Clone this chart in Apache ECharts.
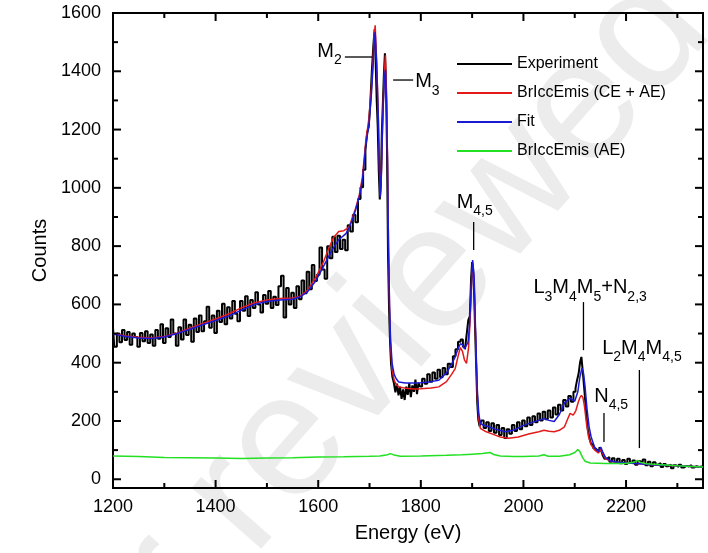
<!DOCTYPE html>
<html style="height: 100%">
<head>
    <meta charset="utf-8">
    <title>BrIccEmis spectrum</title>
    <script src="https://cdn.jsdelivr.net/npm/echarts/dist/echarts.min.js"></script>
</head>
<body style="height: 100%; margin: 0; background: #fff">
    <div id="main" style="width: 708px; height: 553px"></div>
    <script type="text/javascript">
        var chart = echarts.init(document.getElementById('main'));

        // tick values
        var xMajorTicks = [1200, 1400, 1600, 1800, 2000, 2200];
        var xMinorTicks = [1300, 1500, 1700, 1900, 2100, 2300];
        var yMajorTicks = [0, 200, 400, 600, 800, 1000, 1200, 1400, 1600];
        var yMinorTicks = [100, 300, 500, 700, 900, 1100, 1300, 1500];

        var seriesNames = ['Experiment', 'BrIccEmis (CE + AE)', 'Fit', 'BrIccEmis (AE)'];

        // measured spectrum [energy eV, counts]
        var experiment = [
            [1200,520],[1205,455],[1210,500],[1215,470],[1220,512],[1225,478],[1230,505],[1235,462],[1240,500],[1245,488],
            [1250,455],[1255,502],[1260,474],[1265,508],[1270,468],[1275,497],[1280,458],[1285,512],[1290,482],[1295,532],
            [1300,468],[1305,518],[1310,488],[1315,548],[1320,500],[1325,458],[1330,522],[1335,480],[1340,548],[1345,495],
            [1350,530],[1355,472],[1360,552],[1365,505],[1370,562],[1375,508],[1380,542],[1385,592],[1390,520],[1395,562],
            [1400,502],[1405,578],[1410,540],[1415,602],[1420,532],[1425,590],[1430,552],[1435,612],[1440,568],[1445,542],
            [1450,612],[1455,578],[1460,628],[1465,560],[1470,615],[1475,588],[1480,642],[1485,600],[1490,572],[1495,632],
            [1500,602],[1505,646],[1510,588],[1515,626],[1520,598],[1525,662],[1530,698],[1535,555],[1540,656],[1545,600],
            [1550,640],[1555,588],[1560,662],[1565,618],[1570,682],[1575,638],[1580,712],[1585,652],[1590,735],[1595,680],
            [1600,702],[1605,795],[1610,720],[1615,688],[1620,800],[1625,758],[1630,832],[1635,780],[1640,836],[1645,790],
            [1650,822],[1655,786],[1660,872],[1665,850],[1670,908],[1675,882],[1680,962],[1685,1002],[1690,1062],[1694,1130],
            [1697,1190],[1700,1210],[1703,1290],[1706,1400],[1709,1490],[1711,1545],[1713,1430],[1715,1300],[1717,1210],[1719,1060],
            [1721,960],[1723,1010],[1725,1190],[1727,1290],[1729,1390],[1731,1462],[1733,1370],[1735,1140],[1737,780],[1739,590],
            [1741,470],[1743,395],[1746,352],[1749,330],[1752,298],[1755,328],[1758,288],[1761,318],[1764,276],[1767,308],
            [1770,272],[1773,318],[1776,290],[1779,330],[1782,282],[1785,322],[1788,300],[1791,342],[1794,292],[1797,332],
            [1800,318],[1805,345],[1810,328],[1815,360],[1820,335],[1825,366],[1830,345],[1835,376],[1840,350],[1845,382],
            [1850,360],[1855,396],[1860,385],[1865,422],[1870,446],[1875,472],[1880,480],[1884,455],[1888,446],[1891,500],
            [1894,546],[1897,560],[1899,690],[1901,745],[1903,720],[1905,630],[1907,500],[1909,380],[1911,262],[1913,205],
            [1916,182],[1920,202],[1925,176],[1930,196],[1935,166],[1940,192],[1945,160],[1950,186],[1955,152],[1960,176],
            [1965,142],[1970,172],[1975,156],[1980,186],[1985,166],[1990,196],[1995,172],[2000,202],[2005,182],[2010,212],
            [2015,186],[2020,216],[2025,196],[2030,226],[2035,202],[2040,232],[2045,206],[2050,236],[2055,212],[2060,246],
            [2065,222],[2070,256],[2075,236],[2080,272],[2085,250],[2090,286],[2095,266],[2100,300],[2103,312],[2106,340],
            [2109,362],[2112,402],[2114,420],[2116,382],[2118,342],[2121,290],[2124,222],[2127,172],[2130,142],[2134,120],
            [2138,106],[2142,100],[2146,95],[2150,110],[2153,100],[2156,82],[2160,70],[2165,76],[2170,60],[2175,72],
            [2180,58],[2185,70],[2190,55],[2195,66],[2200,52],[2205,70],[2210,56],[2215,64],[2220,50],[2225,62],
            [2230,58],[2235,68],[2240,48],[2245,60],[2250,45],[2255,58],[2260,50],[2265,55],[2270,42],[2275,52],
            [2280,45],[2285,50],[2290,38],[2295,48],[2300,42],[2305,50],[2310,40],[2315,46],[2320,44],[2325,48],
            [2330,40],[2335,45],[2340,42],[2345,44],[2350,40]
        ];

        // BrIccEmis, conversion electrons + Auger electrons
        var ceAe = [
            [1200,500],[1225,492],[1250,487],[1275,485],[1300,490],[1325,502],[1350,518],[1375,535],[1400,550],[1425,567],
            [1450,588],[1475,605],[1500,615],[1525,620],[1550,622],[1565,628],[1580,650],[1596,695],[1610,745],[1620,790],
            [1630,830],[1640,850],[1650,853],[1660,865],[1666,895],[1673,930],[1680,975],[1686,1035],[1693,1165],[1699,1240],
            [1704,1350],[1707,1440],[1709,1520],[1711,1558],[1714,1430],[1717,1255],[1719,1085],[1721,975],[1723,1045],[1726,1260],
            [1729,1400],[1731,1455],[1733,1320],[1735,1110],[1737,800],[1739,590],[1741,460],[1744,375],[1748,340],[1752,325],
            [1757,317],[1770,312],[1785,310],[1800,311],[1820,313],[1835,317],[1850,335],[1860,360],[1867,380],[1873,425],
            [1877,452],[1881,440],[1885,410],[1889,398],[1893,450],[1896,540],[1899,680],[1901,740],[1904,670],[1907,470],
            [1910,290],[1913,205],[1916,175],[1925,165],[1940,155],[1955,145],[1971,141],[1990,145],[2010,155],[2030,163],
            [2040,168],[2050,165],[2060,163],[2070,168],[2080,180],[2087,210],[2091,226],[2097,220],[2102,235],[2107,265],
            [2110,280],[2113,288],[2116,280],[2119,250],[2123,190],[2127,145],[2132,118],[2139,100],[2146,90],[2151,103],
            [2155,86],[2160,70],[2170,62],[2180,58],[2200,56],[2220,54],[2250,50],[2300,46],[2350,42]
        ];

        // fit
        var fit = [
            [1200,498],[1225,490],[1250,485],[1275,483],[1300,488],[1325,500],[1350,515],[1375,530],[1400,545],[1425,560],
            [1450,580],[1475,600],[1500,610],[1525,615],[1550,618],[1565,626],[1580,645],[1596,683],[1610,730],[1627,786],
            [1640,822],[1654,843],[1660,862],[1666,889],[1673,925],[1680,969],[1686,1023],[1693,1150],[1699,1220],[1704,1330],
            [1707,1421],[1709,1500],[1711,1535],[1714,1420],[1717,1250],[1719,1080],[1721,968],[1723,1040],[1726,1250],[1729,1380],
            [1731,1405],[1733,1300],[1735,1100],[1737,800],[1739,600],[1741,480],[1744,398],[1748,360],[1752,345],[1757,334],
            [1770,330],[1785,330],[1800,331],[1820,335],[1835,340],[1850,365],[1860,395],[1867,420],[1873,450],[1877,465],
            [1881,462],[1885,448],[1888,443],[1892,470],[1895,530],[1898,650],[1901,752],[1904,690],[1907,490],[1910,310],
            [1913,225],[1916,192],[1922,185],[1930,182],[1945,172],[1964,163],[1980,168],[2000,185],[2020,197],[2040,208],
            [2050,202],[2060,198],[2070,222],[2080,262],[2091,278],[2100,268],[2106,300],[2110,350],[2114,381],[2117,365],
            [2120,320],[2124,240],[2128,180],[2132,145],[2139,108],[2146,95],[2151,110],[2155,92],[2160,74],[2170,63],
            [2180,59],[2200,56],[2220,54],[2250,50],[2300,46],[2350,42]
        ];

        // BrIccEmis, Auger electrons only
        var aeOnly = [
            [1200,80],[1250,78],[1300,75],[1350,74],[1400,73],[1450,71],[1500,73],[1550,74],[1600,76],[1650,77],
            [1700,79],[1720,80],[1735,84],[1741,88],[1748,83],[1760,79],[1800,80],[1850,82],[1880,84],[1900,86],
            [1920,88],[1935,92],[1942,85],[1955,80],[1980,78],[2000,78],[2030,80],[2040,84],[2048,79],[2070,79],
            [2090,84],[2100,92],[2106,102],[2110,95],[2115,75],[2120,62],[2130,56],[2160,54],[2200,54],[2215,58],
            [2222,65],[2228,58],[2240,53],[2270,50],[2300,46],[2350,42]
        ];

        // peak labels: text anchor, leader line (data coords)
        var peakLabels = [
            { text: '{m|M}{s|2}', at: [1646, 1464], align: 'right', line: [[1652, 1449], [1705, 1449]] },
            { text: '{m|M}{s|3}', at: [1789, 1361], align: 'left', line: [[1746, 1370], [1785, 1370]] },
            { text: '{m|M}{s|4,5}', at: [1905, 948], align: 'center', line: [[1903, 883], [1903, 787]] },
            { text: '{m|L}{s|3}{m|M}{s|4}{m|M}{s|5}{m|+N}{s|2,3}', at: [2130, 653], align: 'center', line: [[2117, 608], [2117, 443]] },
            { text: '{m|N}{s|4,5}', at: [2171, 282], align: 'center', line: [[2157, 227], [2157, 128]] },
            { text: '{m|L}{s|2}{m|M}{s|4}{m|M}{s|4,5}', at: [2231, 447], align: 'center', line: [[2226, 375], [2226, 107]] }
        ];

        var font = 'Liberation Sans, Arial, Helvetica, sans-serif';
        var xMin = 1200, xMax = 2350, yMin = -30, yMax = 1600;

        function plain(v) { return String(v); }

        function lineSeries(name, data, color, width) {
            return {
                name: name, type: 'line', data: data,
                showSymbol: false, symbol: 'none', smooth: false,
                lineStyle: { color: color, width: width }, itemStyle: { color: color },
                emphasis: { disabled: true }
            };
        }

        var expSeries = lineSeries(seriesNames[0], experiment, '#000000', 2);
        expSeries.step = 'middle';

        var option = {
            animation: false,
            backgroundColor: '#fff',
            grid: { left: 113, right: 5, top: 13, bottom: 65, show: true, borderColor: '#000', borderWidth: 2 },
            legend: {
                data: seriesNames,
                orient: 'vertical',
                left: 457, top: 56, padding: 0,
                icon: 'rect', itemWidth: 55, itemHeight: 2, itemGap: 13,
                textStyle: { color: '#000', fontSize: 16, fontFamily: font },
                selectedMode: false
            },
            xAxis: {
                type: 'value', min: xMin, max: xMax,
                name: 'Energy (eV)', nameLocation: 'middle', nameGap: 35,
                nameTextStyle: { color: '#000', fontSize: 20, fontFamily: font },
                axisLine: { show: true, onZero: false, lineStyle: { color: '#000', width: 2 } },
                axisTick: { show: false },
                axisLabel: { customValues: xMajorTicks, formatter: plain, color: '#000', fontSize: 18, fontFamily: font, margin: 10 },
                splitLine: { show: false }
            },
            yAxis: {
                type: 'value', min: yMin, max: yMax,
                name: 'Counts', nameLocation: 'middle', nameGap: 61,
                nameTextStyle: { color: '#000', fontSize: 20, fontFamily: font },
                axisLine: { show: true, onZero: false, lineStyle: { color: '#000', width: 2 } },
                axisTick: { show: false },
                axisLabel: { customValues: yMajorTicks, formatter: plain, color: '#000', fontSize: 18, fontFamily: font, margin: 12 },
                splitLine: { show: false }
            },
            series: [
                expSeries,
                lineSeries(seriesNames[1], ceAe, '#e41a1a', 1.5),
                lineSeries(seriesNames[2], fit, '#1a1ad6', 1.5),
                lineSeries(seriesNames[3], aeOnly, '#22e022', 1.5)
            ]
        };
        chart.setOption(option);

        function px(p) { return chart.convertToPixel({ gridIndex: 0 }, p); }

        var graphics = [{
            type: 'text', silent: true, z: -10,
            x: 310, y: 420, rotation: 0.85,
            style: { text: 'Peer reviewed', fontSize: 175, fontFamily: font, fill: '#ececec', align: 'center', verticalAlign: 'middle' }
        }];

        // inward ticks on all four sides
        function tick(a, dx, dy) {
            graphics.push({
                type: 'line', silent: true, z: 50,
                shape: { x1: a[0], y1: a[1], x2: a[0] + dx, y2: a[1] + dy },
                style: { stroke: '#000', lineWidth: 2 }
            });
        }
        xMajorTicks.forEach(function (v) { tick(px([v, yMin]), 0, -8); tick(px([v, yMax]), 0, 8); });
        xMinorTicks.forEach(function (v) { tick(px([v, yMin]), 0, -5); tick(px([v, yMax]), 0, 5); });
        yMajorTicks.forEach(function (v) { tick(px([xMin, v]), 8, 0); tick(px([xMax, v]), -8, 0); });
        yMinorTicks.forEach(function (v) { tick(px([xMin, v]), 5, 0); tick(px([xMax, v]), -5, 0); });

        // peak labels with subscripts
        var rich = {
            m: { fontSize: 20, fontFamily: font, fill: '#000', lineHeight: 22, verticalAlign: 'top' },
            s: { fontSize: 14, fontFamily: font, fill: '#000', lineHeight: 14, padding: [12, 0, 0, 0], verticalAlign: 'top' }
        };
        peakLabels.forEach(function (p) {
            var a = px(p.line[0]);
            var b = px(p.line[1]);
            var t = px(p.at);
            graphics.push({
                type: 'line', silent: true, z: 100,
                shape: { x1: a[0], y1: a[1], x2: b[0], y2: b[1] },
                style: { stroke: '#000', lineWidth: 1.3 }
            });
            graphics.push({
                type: 'text', silent: true, z: 100,
                x: t[0], y: t[1] - 11,
                style: { text: p.text, rich: rich, align: p.align, verticalAlign: 'top', fill: '#000' }
            });
        });
        chart.setOption({ graphic: graphics });
    </script>
</body>
</html>
